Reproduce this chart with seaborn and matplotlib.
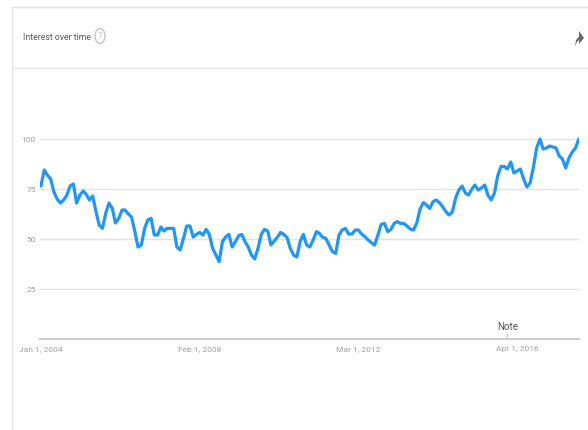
import pandas as pd
import matplotlib.pyplot as plt
import seaborn as sns
from matplotlib.lines import Line2D
from matplotlib.patches import Ellipse, Polygon

sns.set_theme(style="white")
plt.rcParams['font.family'] = ['Roboto', 'Liberation Sans', 'DejaVu Sans']

# monthly search interest, Jan 2004 .. Nov 2017
interest_2004_2007 = [76.5, 84.5, 82, 80, 73.7, 70, 68, 69.5, 72, 76.5, 77.5, 68,
                      72, 74, 72.3, 69.5, 71.5, 63.7, 57, 55.3, 63, 68, 65.3, 58,
                      60.3, 64.5, 64.5, 62.5, 61, 53.7, 46, 47, 55.3, 59.5, 60.3, 52,
                      52, 56, 54, 55.3, 55.3, 55.3, 46]
interest_2007_2010 = [44.5, 50.3, 56.5, 56.5, 51,
                      52.3, 53.3, 52, 54.8, 52.3, 45.3, 42, 38.7, 48.7, 51, 52.3, 46,
                      48.7, 51.7, 52.3, 48.7, 46, 42, 40, 45.3, 52.3, 54.8, 54, 47,
                      49, 51, 53.3, 52.3, 50.7, 45.3, 42, 41, 48.7, 52.3, 47, 46]
interest_2011_2014 = [49.5, 53.7, 52.8, 50.8, 50.3, 47, 43.7, 42.8, 52, 54.5, 55.3, 52.5,
                      52.5, 54.5, 54.5, 52.5, 51.2, 49.5, 48.2, 47, 52, 57.3, 57.8, 53.7,
                      54.8, 57.8, 58.7, 57.8, 57.8, 56.5, 55, 54.5, 58, 64.8, 68.2, 67,
                      65.3, 68.7, 69.5, 68.2, 66.2, 63.7]
interest_2014_2017 = [62, 63.5, 70.5, 74.5, 76.5, 73,
                      72, 75, 77, 74.5, 75.5, 77, 72, 69.5, 73, 81.5, 86.3, 86.3,
                      85, 88.5, 83, 84, 85, 80, 76, 78, 86, 95.5, 100, 95,
                      95.5, 96.5, 96, 95.5, 91.5, 90, 85.5, 90.5, 93.5, 95.5, 100]

interest = interest_2004_2007 + interest_2007_2010 + interest_2011_2014 + interest_2014_2017
months = pd.date_range("2004-01-01", periods=len(interest), freq="MS")

tick_dates = pd.to_datetime(["2004-01-01", "2008-02-01", "2012-03-01", "2016-04-01"])
tick_labels = ["Jan 1, 2004", "Feb 1, 2008", "Mar 1, 2012", "Apr 1, 2016"]
y_ticks = [25, 50, 75, 100]
note_date = pd.Timestamp("2016-01-01")

W, H = 588, 430
fig = plt.figure(figsize=(W / 100, H / 100), dpi=100)
fig.patch.set_facecolor("white")

# card frame
border = "#e4e4e4"
fig.add_artist(Line2D([12 / W, 1], [1 - 7 / H, 1 - 7 / H], color=border, lw=1))
fig.add_artist(Line2D([12 / W, 1], [1 - 68 / H, 1 - 68 / H], color=border, lw=1))
fig.add_artist(Line2D([12 / W, 12 / W], [0, 1 - 7 / H], color=border, lw=1))

# header
fig.text(23 / W, 1 - 37 / H, "Interest over time", fontsize=6.3, color="#5a5a5a", va="center")
fig.add_artist(Ellipse((100 / W, 1 - 36 / H), 10 / W, 15 / H, transform=fig.transFigure,
                       fill=False, ec="#c4c4c4", lw=1))
fig.text(100 / W, 1 - 36.5 / H, "?", fontsize=6.5, color="#c4c4c4", ha="center", va="center")
share = [(575, 46), (576, 40), (579, 36.5), (579, 31), (584, 38), (579, 44), (579, 40), (577, 42)]
fig.add_artist(Polygon([(x / W, 1 - y / H) for x, y in share], closed=True,
                       transform=fig.transFigure, fc="#6a6a6a", ec="none"))

# chart
ax = fig.add_axes([40 / W, 91 / H, (579 - 40) / W, (301 - 91) / H])
df = pd.DataFrame({"month": months, "interest": interest})
sns.lineplot(data=df, x="month", y="interest", ax=ax, color="#2196f3", lw=2.3)

ax.set_ylim(0, 105)
ax.set_xlim(months[0] - pd.Timedelta(days=9), months[-1] + pd.Timedelta(days=2))
ax.set_yticks(y_ticks)
ax.set_xticks(tick_dates)
ax.set_xticklabels(tick_labels)
ax.set_xlabel("")
ax.set_ylabel("")
ax.yaxis.grid(True, color="#e2e2e2", lw=1)
ax.xaxis.grid(False)
for side in ["left", "top", "right"]:
    ax.spines[side].set_visible(False)
ax.spines["bottom"].set_color("#cccccc")
ax.spines["bottom"].set_linewidth(1.5)
ax.tick_params(axis="both", length=0, labelsize=6, labelcolor="#a0a0a0")
ax.tick_params(axis="y", pad=3)
ax.tick_params(axis="x", pad=5)
ax.set_facecolor("white")

# note marker
ax.axvline(note_date, ymin=0, ymax=5 / 210, color="#cccccc", lw=1)
ax.text(note_date, 6, "Note", ha="center", va="center", fontsize=7, color="#555555")

fig.savefig("out.png", dpi=100)
